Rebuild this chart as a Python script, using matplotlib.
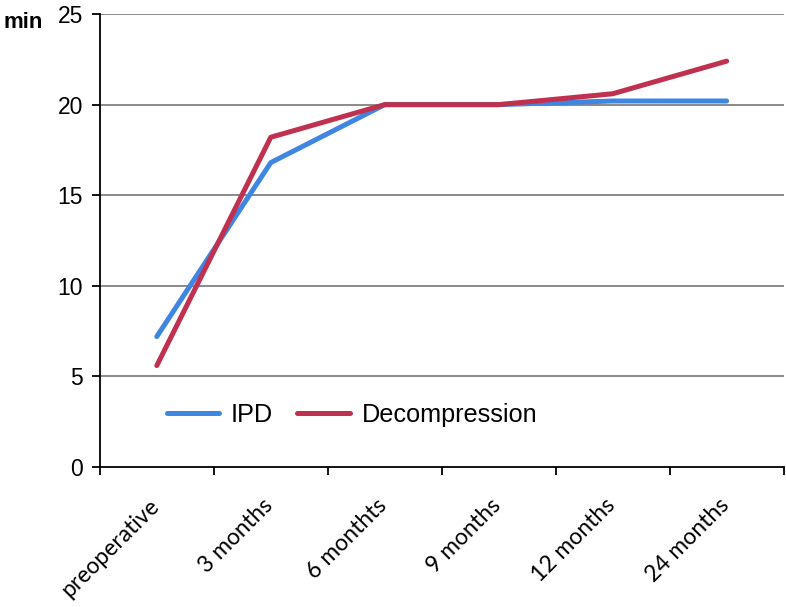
import numpy as np
import matplotlib.pyplot as plt
from matplotlib.transforms import ScaledTranslation

# categorias y valores (min)
categories = ["preoperative", "3 months", "6 monthts", "9 months", "12 months", "24 months"]
ipd = [7.2, 16.8, 20.0, 20.0, 20.2, 20.2]
decompression = [5.6, 18.2, 20.0, 20.0, 20.6, 22.4]
yticks = [0, 5, 10, 15, 20, 25]

fig = plt.figure(figsize=(7.86, 6.07), dpi=100)
ax = fig.add_axes([0.127, 0.2306, 0.870, 0.7463])

x = np.arange(len(categories))
ax.plot(x, ipd, color="#3f86e2", lw=3.6, solid_capstyle="round", label="IPD", zorder=3)
ax.plot(x, decompression, color="#c0304f", lw=3.6, solid_capstyle="round", label="Decompression", zorder=4)

ax.set_xlim(-0.5, len(categories) - 0.5)
ax.set_ylim(0, 25)

# grid
ax.set_yticks(yticks)
ax.set_yticklabels([str(v) for v in yticks], fontsize=16.5, family="Liberation Sans")
for v in yticks[1:]:
    ax.axhline(v, color="#8a8a8a", lw=1.4, zorder=1)

# ticks del eje x en los bordes, etiquetas en el centro
ax.set_xticks(np.arange(len(categories) + 1) - 0.5)
ax.set_xticklabels([])
ax.set_xticks(x, minor=True)
ax.set_xticklabels(categories, minor=True, rotation=45, ha="right", va="top",
                   rotation_mode="anchor", fontsize=16.5, family="Lato")
ax.tick_params(axis="x", which="minor", length=0, pad=20)
ax.tick_params(axis="x", which="major", length=6, width=1.3, direction="out")
ax.tick_params(axis="y", length=6, width=1.3, direction="out", pad=6)

# correr un poco las etiquetas a la izquierda
shift = ScaledTranslation(-6 / 72, 0, fig.dpi_scale_trans)
for lbl in ax.get_xticklabels(minor=True):
    lbl.set_transform(lbl.get_transform() + shift)

for s in ["top", "right"]:
    ax.spines[s].set_visible(False)
ax.spines["left"].set_linewidth(1.3)
ax.spines["bottom"].set_linewidth(1.3)

fig.text(0.004, 0.963, "min", fontsize=16, fontweight="bold", family="Liberation Sans", va="center")

ax.legend(loc="center left", bbox_to_anchor=(0.098, 0.115), ncol=2, frameon=False,
          borderpad=0, borderaxespad=0, handlelength=2.06, handletextpad=0.47,
          columnspacing=0.97, prop={"family": "Liberation Sans", "size": 18.2})

fig.savefig("out.png", dpi=100)
